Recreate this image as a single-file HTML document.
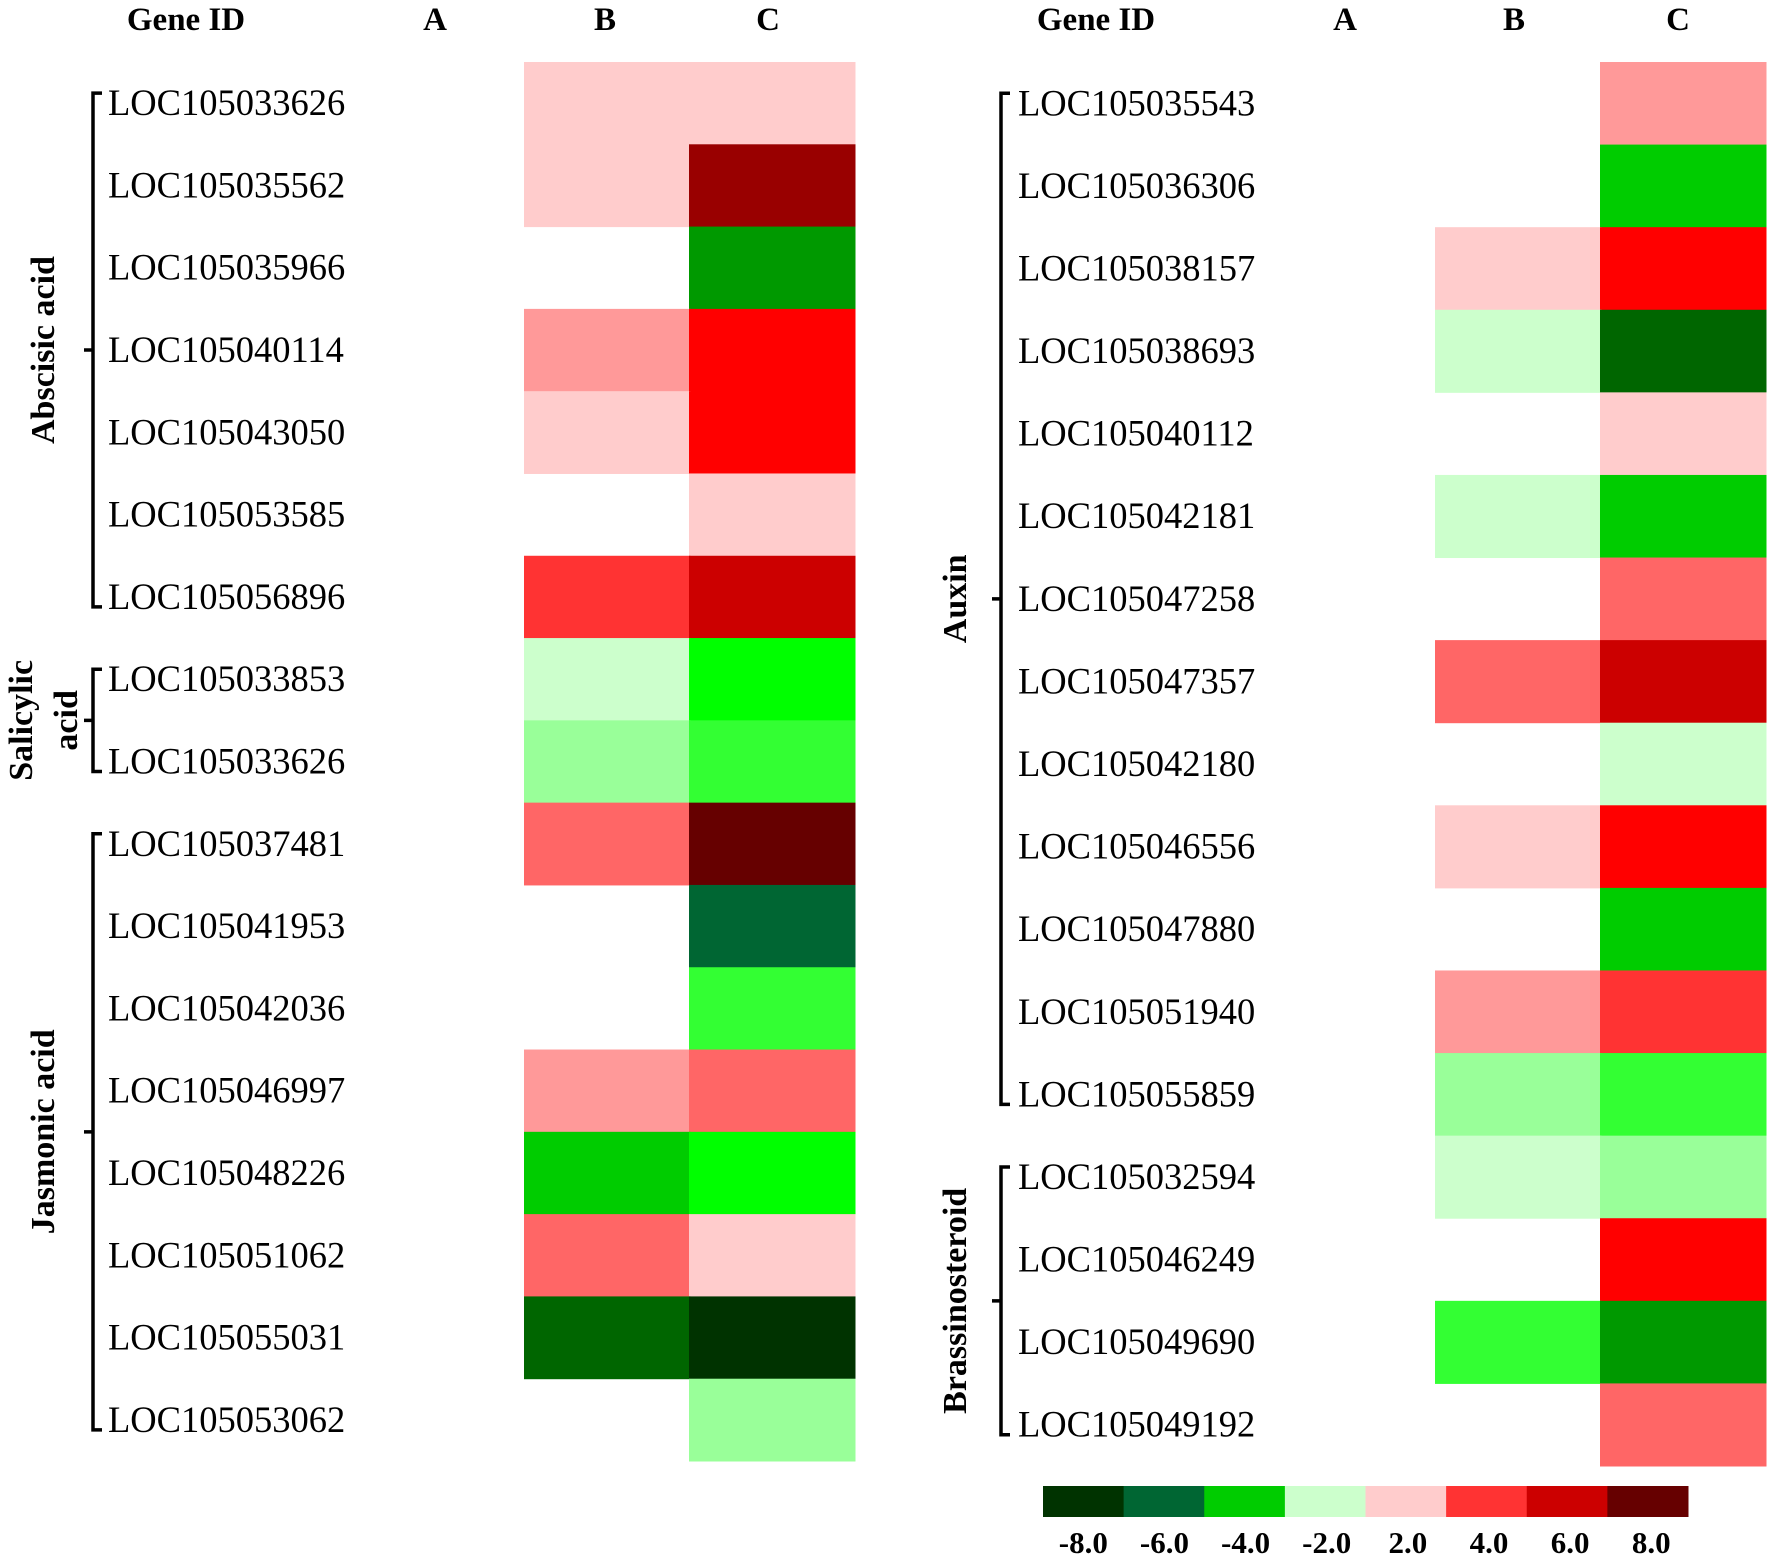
<!DOCTYPE html>
<html><head><meta charset="utf-8"><style>
html,body{margin:0;padding:0;background:#fff;}
svg{display:block;}
svg text{font-family:"Liberation Serif","DejaVu Serif",serif;fill:#000;}
</style></head><body>
<svg id="chart" width="1772" height="1558" viewBox="0 0 1772 1558" xmlns="http://www.w3.org/2000/svg"></svg>
<script>
const leftGenes=["LOC105033626","LOC105035562","LOC105035966","LOC105040114","LOC105043050","LOC105053585","LOC105056896","LOC105033853","LOC105033626","LOC105037481","LOC105041953","LOC105042036","LOC105046997","LOC105048226","LOC105051062","LOC105055031","LOC105053062"];
const leftB=[2,2,null,2.5,2,null,4,-2,-2.5,3,null,null,2.5,-4,3,-7,null];
const leftC=[2,7,-5,5,5,2,6,-3.5,-3,8,-6,-3,3,-3.5,2,-8,-2.5];
const rightGenes=["LOC105035543","LOC105036306","LOC105038157","LOC105038693","LOC105040112","LOC105042181","LOC105047258","LOC105047357","LOC105042180","LOC105046556","LOC105047880","LOC105051940","LOC105055859","LOC105032594","LOC105046249","LOC105049690","LOC105049192"];
const rightB=[null,null,2,-2,null,-2,null,3,null,2,null,2.5,-2.5,-2,null,-3,null];
const rightC=[2.5,-4,5,-7,2,-4,3,6,-2,5,-4,4,-3,-2.5,5,-5,3];
const leftGroups=[{name:["Abscisic acid"],s:0,e:6},{name:["Salicylic","acid"],s:7,e:8},{name:["Jasmonic acid"],s:9,e:16}];
const rightGroups=[{name:["Auxin"],s:0,e:12},{name:["Brassinosteroid"],s:13,e:16}];
const legendLabels=["-8.0","-6.0","-4.0","-2.0","2.0","4.0","6.0","8.0"];
const legendColors=["#003300","#006633","#00cc00","#ccffcc","#ffcccc","#ff3333","#cc0000","#660000"];
const levels=[-8,-7,-6,-5,-4,-3.5,-3,-2.5,-2,2,2.5,3,4,5,6,7,8];
const levelColors=["#003300","#006600","#006633","#009900","#00cc00","#00ff00","#33ff33","#99ff99","#ccffcc","#ffcccc","#ff9999","#ff6666","#ff3333","#ff0000","#cc0000","#990000","#660000"];

const FONT='"Liberation Serif", "DejaVu Serif", serif';
function colorFor(v){let b=0,d=1e9;levels.forEach((l,i)=>{const dd=Math.abs(l-v);if(dd<d){d=dd;b=i;}});return levelColors[b];}
const svg=document.getElementById('chart');
const NS="http://www.w3.org/2000/svg";
function mk(tag,attrs,txt){const e=document.createElementNS(NS,tag);for(const k in attrs)e.setAttribute(k,attrs[k]);if(tag==='text'){e.setAttribute('font-family',FONT);e.style.fontFamily=FONT;}if(txt!=null)e.textContent=txt;svg.appendChild(e);return e;}

function panel(p){
  const rowH=(p.bottom-p.top)/p.genes.length;
  const yRow=i=>p.top+i*rowH;
  const yc=i=>yRow(i)+rowH/2;
  [["Gene ID",p.hx[0]],["A",p.hx[1]],["B",p.hx[2]],["C",p.hx[3]]].forEach(h=>{
    const t=mk('text',{x:h[1],y:30,'text-anchor':'middle','font-size':33,'font-weight':'bold'},h[0]);
    
    
  });
  p.genes.forEach((g,i)=>{
    const t=mk('text',{x:p.labelX,y:yc(i)+12,'font-size':36.5},g);
    
    
    [[p.B,p.bx],[p.C,p.cx]].forEach(s=>{
      const v=s[0][i];
      if(v==null)return;
      const r=mk('rect',{x:s[1],y:yRow(i),width:p.cw+0.5,height:rowH+0.5,fill:colorFor(v)});
      
      
    });
  });
  p.groups.forEach(gr=>{
    const y1=yc(gr.s)-10,y2=yc(gr.e)+10;
    const path=mk('path',{d:`M${p.brX+9},${y1} H${p.brX} V${y2} H${p.brX+9} M${p.brX},${(y1+y2)/2} H${p.brX-9}`,stroke:'#000','stroke-width':3.5,fill:'none'});
    
    
    const my=(y1+y2)/2;
    if(gr.name.length===1){
      const t=mk('text',{x:0,y:0,'text-anchor':'middle','font-size':34,'font-weight':'bold',transform:`translate(${p.gx},${my}) rotate(-90)`},gr.name[0]);
      
      
    } else {
      gr.name.forEach((n,k)=>{
        const t=mk('text',{x:0,y:0,'text-anchor':'middle','font-size':34,'font-weight':'bold',transform:`translate(${32+k*45},${my}) rotate(-90)`},n);
        
        
      });
    }
  });
}
panel({genes:leftGenes,B:leftB,C:leftC,groups:leftGroups,top:62,bottom:1461,bx:524,cx:689,cw:166,labelX:108,brX:93,gx:54,hx:[186,435,605,768]});
panel({genes:rightGenes,B:rightB,C:rightC,groups:rightGroups,top:62,bottom:1466,bx:1435,cx:1600,cw:166,labelX:1018,brX:1001,gx:966,hx:[1096,1345,1514,1678]});

const lx0=1043,lx1=1688,ly=1486,lh=31,lw=(lx1-lx0)/legendColors.length;
legendColors.forEach((c,i)=>{
  const r=mk('rect',{x:lx0+i*lw,y:ly,width:lw+0.5,height:lh,fill:c});
  
  
  const t=mk('text',{x:lx0+i*lw+lw/2+i*0.5,y:1553,'text-anchor':'middle','font-size':31,'font-weight':'bold'},legendLabels[i]);
  
  
});
</script>
</body></html>
